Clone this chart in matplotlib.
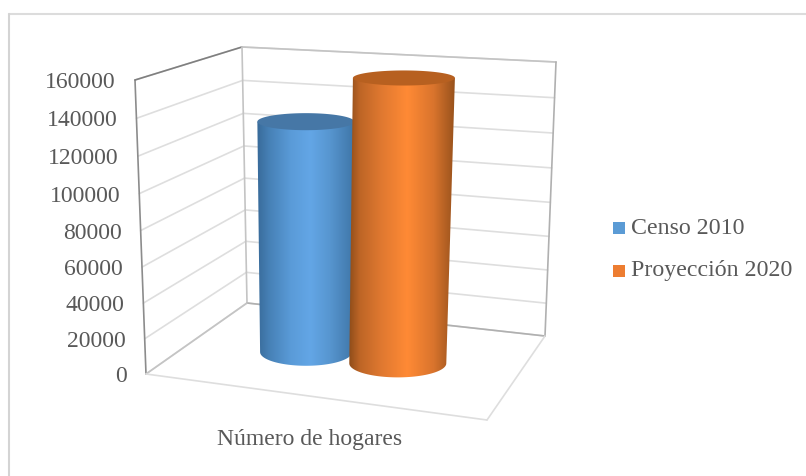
import numpy as np
import matplotlib
matplotlib.use('Agg')
import matplotlib.pyplot as plt
from matplotlib.patches import PathPatch, Rectangle
from matplotlib.path import Path

plt.rcParams['font.family'] = ['Liberation Serif', 'DejaVu Serif']

# datos
categoria = 'Número de hogares'
series = ['Censo 2010', 'Proyección 2020']
valores = [132000, 159000]
ticks = [0, 20000, 40000, 60000, 80000, 100000, 120000, 140000, 160000]
y_max = 160000

# esquinas de la caja 3D en pixeles
piso = {'fl': (146, 374), 'fr': (487, 420), 'bl': (247, 303), 'br': (545, 336)}
techo = {'fl': (135, 80), 'fr': (505, 105), 'bl': (242, 47), 'br': (556, 62)}


def proyecta(u, d, v):
    # u: izquierda-derecha, d: frente-fondo, v: valor
    t = v / y_max
    t = t / (1 + 0.05 * (1 - t))  # perspectiva vertical
    res = []
    for i in range(2):
        a = (1 - d) * ((1 - u) * piso['fl'][i] + u * piso['fr'][i]) + d * ((1 - u) * piso['bl'][i] + u * piso['br'][i])
        b = (1 - d) * ((1 - u) * techo['fl'][i] + u * techo['fr'][i]) + d * ((1 - u) * techo['bl'][i] + u * techo['br'][i])
        res.append(a + (b - a) * t)
    return np.array(res)


def linea(ax, p, q, color, lw=1.2):
    ax.plot([p[0], q[0]], [p[1], q[1]], color=color, lw=lw, solid_capstyle='round', zorder=2)


fig = plt.figure(figsize=(8.06, 4.76), dpi=100)
ax = fig.add_axes([0, 0, 1, 1])
ax.set_axis_off()

# marco exterior: solo arriba e izquierda llegan a verse
linea(ax, (9, 13.5), (806, 13.5), '#dcdcdc', lw=1.5)
linea(ax, (9, 13.5), (9, 476), '#d4d4d4', lw=1.5)

# rejilla
for v in ticks:
    linea(ax, proyecta(0, 0, v), proyecta(0, 1, v), '#dedede')
    linea(ax, proyecta(0, 1, v), proyecta(1, 1, v), '#dedede')
    ax.text(proyecta(0, 0, v)[0] - 19, proyecta(0, 0, v)[1] + 2.5, str(v), ha='right', va='center',
            fontsize=17, color='#595959')

# aristas de la caja
linea(ax, piso['fl'], techo['fl'], '#8c8c8c')
linea(ax, techo['fl'], techo['bl'], '#7f7f7f')
linea(ax, piso['bl'], techo['bl'], '#c4c4c4')
linea(ax, techo['bl'], techo['br'], '#c4c4c4')
linea(ax, piso['br'], techo['br'], '#b0b0b0')
linea(ax, piso['bl'], piso['br'], '#b0b0b0')
linea(ax, piso['fl'], piso['bl'], '#c4c4c4')
linea(ax, piso['fl'], piso['fr'], '#dedede')
linea(ax, piso['fr'], piso['br'], '#dedede')


def cilindro(u, valor, r_base, r_top, stops, c_tapa, z):
    base = proyecta(u, 0.5, 0)
    top = proyecta(u, 0.5, valor)
    ry_base = 6 + 0.0226 * (base[1] - 10)
    ry_top = 6 + 0.0226 * (top[1] - 10)
    ang = np.linspace(0, np.pi, 60)
    xs = np.r_[top[0] - r_top, base[0] - r_base * np.cos(ang), top[0] + r_top]
    ys = np.r_[top[1], base[1] + ry_base * np.sin(ang), top[1]]
    cuerpo = Path(np.c_[xs, ys])
    # degradado horizontal del cuerpo
    grad = np.linspace(0, 1, 256)
    rgb = np.stack([np.interp(grad, stops[0], [matplotlib.colors.to_rgb(c)[i] for c in stops[1]]) for i in range(3)], axis=1)
    x0, x1 = min(top[0] - r_top, base[0] - r_base), max(top[0] + r_top, base[0] + r_base)
    im = ax.imshow(rgb[None, :, :], extent=[x0, x1, base[1] + ry_base + 1, top[1] - 1], aspect='auto', zorder=z, interpolation='bilinear')
    im.set_clip_path(PathPatch(cuerpo, transform=ax.transData))
    # tapa superior
    ang2 = np.linspace(0, 2 * np.pi, 100)
    tapa = np.c_[top[0] + r_top * np.cos(ang2), top[1] + ry_top * np.sin(ang2)]
    ax.add_patch(plt.Polygon(tapa, closed=True, fc=c_tapa, ec='none', zorder=z + 0.1))


pos = [0.343, 0.63]
radios = [(46, 48.5), (48.5, 51)]
degradados = [
    ([0, 0.12, 0.35, 0.55, 0.75, 1], ['#386a99', '#4680b5', '#5a9bd8', '#63a6e6', '#5796d0', '#3f76a8']),
    ([0, 0.1, 0.3, 0.55, 0.8, 1], ['#8f4d1a', '#bd6526', '#df7830', '#ff8a35', '#d9742d', '#98521c']),
]
tapas = ['#4677a6', '#b76020']
for i in range(2):
    cilindro(pos[i], valores[i], radios[i][0], radios[i][1], degradados[i], tapas[i], 5 + i)

# leyenda
colores = ['#5b9bd5', '#ed7d31']
for i, nombre in enumerate(series):
    y = 228 + i * 42.5
    ax.add_patch(Rectangle((613, y - 6), 12, 12, fc=colores[i], ec='none'))
    ax.text(631, y, nombre, ha='left', va='center', fontsize=17.2, color='#595959')

ax.text(310, 439.5, categoria, ha='center', va='center', fontsize=17, color='#595959')

ax.set_xlim(0, 806)
ax.set_ylim(476, 0)
fig.savefig('out.png', dpi=100)
